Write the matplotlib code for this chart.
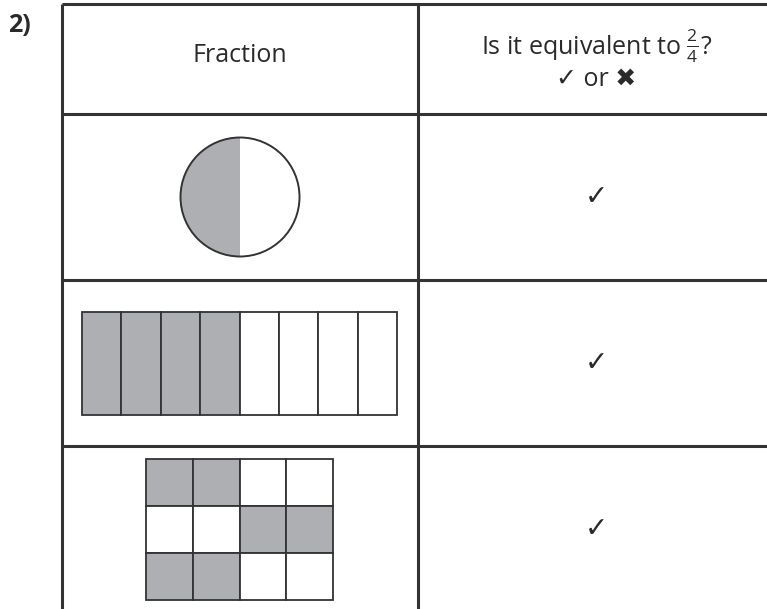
import numpy as np
import matplotlib.pyplot as plt
from matplotlib.patches import Rectangle, Wedge, Circle

# data
question_label = "2)"
header_left = "Fraction"
header_right = ["Is it equivalent to $\\frac{2}{4}$?", "✓ or ✖"]
circle_shaded = 0.5                       # left half shaded
bar_shaded = [1, 1, 1, 1, 0, 0, 0, 0]     # 8 strips
grid_shaded = [[1, 1, 0, 0],
               [0, 0, 1, 1],
               [1, 1, 0, 0]]
answers = ["✓", "✓", "✓"]

GREY = "#aeafb2"
LINE = "#333333"
TXT = "#2a2a2a"


def main():
    plt.rcParams['font.family'] = ['Open Sans', 'DejaVu Sans']
    plt.rcParams['mathtext.fontset'] = 'custom'
    plt.rcParams['mathtext.rm'] = 'Open Sans'
    fig = plt.figure(figsize=(7.67, 6.09), dpi=100)
    ax = fig.add_axes([0, 0, 1, 1])
    ax.set_xlim(0, 767)
    ax.set_ylim(609, 0)
    ax.axis('off')

    # table grid
    left, mid, right = 62, 418, 767
    rows_y = [4, 114, 280, 446, 612]
    for y in rows_y[:-1]:
        ax.plot([left, right], [y, y], color=LINE, lw=2.2, solid_capstyle='butt')
    for x in [left, mid]:
        ax.plot([x, x], [rows_y[0], 609], color=LINE, lw=2.2, solid_capstyle='butt')

    ax.text(8, 25, question_label, fontsize=18, fontweight='bold', color=TXT,
            ha='left', va='center')
    ax.text((left + mid) / 2, 56, header_left, fontsize=18, color=TXT,
            ha='center', va='center')
    rc = (mid + right) / 2 + 4
    ax.text(rc, 46, header_right[0], fontsize=18, color=TXT,
            ha='center', va='center')
    ax.text(rc, 80, header_right[1], fontsize=18, color=TXT,
            ha='center', va='center', family=['Open Sans', 'DejaVu Sans'])

    # row 1: circle
    cx, cy, r = 240, 197, 59.5
    ax.add_patch(Wedge((cx, cy), r, 90, 90 + 360 * circle_shaded,
                       facecolor=GREY, edgecolor='none'))
    ax.add_patch(Circle((cx, cy), r, facecolor='none', edgecolor=LINE, lw=1.4))

    # row 2: strips
    bx0, bx1, by0, by1 = 82, 397, 312, 415
    w = (bx1 - bx0) / len(bar_shaded)
    for i, s in enumerate(bar_shaded):
        ax.add_patch(Rectangle((bx0 + i * w, by0), w, by1 - by0,
                               facecolor=GREY if s else 'white',
                               edgecolor=LINE, lw=1.3))

    # row 3: grid
    gx0, gx1, gy0, gy1 = 146, 333, 459, 600
    nr, nc = len(grid_shaded), len(grid_shaded[0])
    cw, ch = (gx1 - gx0) / nc, (gy1 - gy0) / nr
    for r_i, row in enumerate(grid_shaded):
        for c_i, s in enumerate(row):
            ax.add_patch(Rectangle((gx0 + c_i * cw, gy0 + r_i * ch), cw, ch,
                                   facecolor=GREY if s else 'white',
                                   edgecolor=LINE, lw=1.3))

    # answers
    for i, a in enumerate(answers):
        yc = (rows_y[i + 1] + rows_y[i + 2]) / 2
        ax.text(rc, yc, a, fontsize=20, fontweight='bold', color=TXT,
                ha='center', va='center', family=['DejaVu Sans'])

    fig.savefig('out.png', dpi=100)


if __name__ == "__main__":
    main()
